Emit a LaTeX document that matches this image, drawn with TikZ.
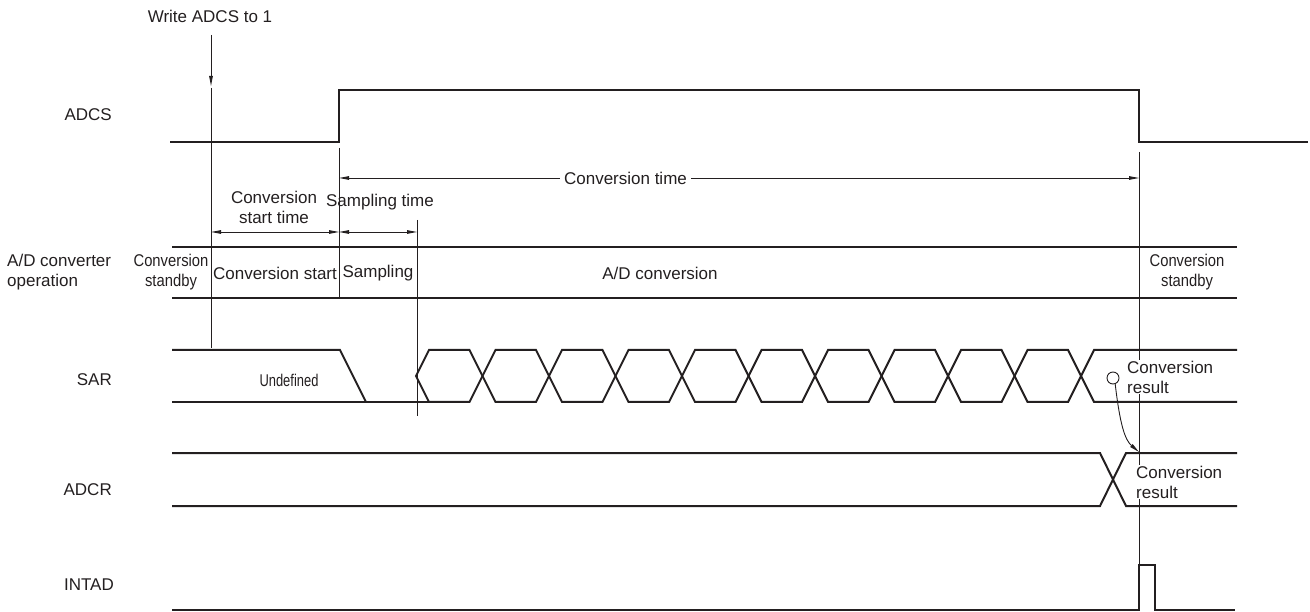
\documentclass[tikz,border=0pt]{standalone}
\usepackage{fontspec}
\setmainfont{Liberation Sans}
\newfontfamily\condfont[FakeStretch=0.87]{Liberation Sans}
\newfontfamily\narrowfont[FakeStretch=0.76]{Liberation Sans}
\usetikzlibrary{arrows.meta}
\definecolor{ink}{HTML}{231F20}
\begin{document}
\begin{tikzpicture}[x=1pt,y=-1pt,
  sig/.style={draw=ink,line width=2pt,line join=miter},
  guide/.style={draw=ink,line width=0.9pt},
  tip/.style={-{Triangle[length=10pt,width=3.6pt]}},
  dim/.style={draw=ink,line width=0.9pt,{Triangle[length=10pt,width=3.6pt]}-{Triangle[length=10pt,width=3.6pt]}},
  lbl/.style={text=ink,inner sep=0pt,font=\fontsize{17}{20}\selectfont},
  small/.style={text=ink,inner sep=0pt,align=center,font=\condfont\fontsize{17}{19.5}\selectfont},
  tiny/.style={text=ink,inner sep=0pt,font=\narrowfont\fontsize{17}{19}\selectfont},
  boxed/.style={lbl,fill=white,inner sep=1pt,align=left,anchor=west}]
\useasboundingbox (0,0) rectangle (1310,612);

% ---- signal names
\node[lbl,anchor=east] (nADCS) at (112,115) {ADCS};
\node[lbl,anchor=west,align=left] (nOP) at (7,272) {A/D converter\\operation};
\node[lbl,anchor=east] (nSAR) at (112,380) {SAR};
\node[lbl,anchor=east] (nADCR) at (112,490) {ADCR};
\node[lbl,anchor=east] (nINT) at (114,585) {INTAD};

% ---- write arrow and guide lines
\node[lbl] (write) at (210,16) {Write ADCS to 1};
\coordinate (w1) at (211,35);
\coordinate (w2) at (211,86);
\draw[guide,tip] (w1) -- (w2);
\coordinate (g1a) at (211,88);   \coordinate (g1b) at (211,348);
\coordinate (g2a) at (339,148);  \coordinate (g2b) at (339,298);
\coordinate (g3a) at (417,220);  \coordinate (g3b) at (417,416);
\coordinate (g4a) at (1139,152); \coordinate (g4b) at (1139,565);
\draw[guide] (g1a) -- (g1b);
\draw[guide] (g2a) -- (g2b);
\draw[guide] (g3a) -- (g3b);
\draw[guide] (g4a) -- (g4b);

% ---- ADCS
\draw[sig] (170,142) -- (339,142) -- (339,90) -- (1139,90) -- (1139,142) -- (1308,142);

% ---- timing dimensions
\coordinate (ct1) at (339,178);
\coordinate (ct2) at (1139,178);
\draw[dim] (ct1) -- (ct2);
\node[lbl,fill=white,inner xsep=4pt,inner ysep=2pt] (ctime) at (625.5,178) {Conversion time};
\coordinate (cs1) at (211,232);
\coordinate (cs2) at (339,232);
\coordinate (st2) at (417,232);
\draw[dim] (cs1) -- (cs2);
\draw[dim] (cs2) -- (st2);
\node[lbl,align=center] (cstime) at (274,207) {Conversion\\start time};
\node[lbl] (stime) at (380,202) {Sampling time};

% ---- A/D converter operation band
\draw[sig] (172,247) -- (1237,247);
\draw[sig] (172,298) -- (1237,298);
\node[small] (stby1) at (171,272) {Conversion\\standby};
\node[lbl] (cstart) at (275,273) {Conversion start};
\node[lbl] (samp) at (378,273) {Sampling};
\node[lbl] (adconv) at (660,273) {A/D conversion};
\node[small] (stby2) at (1187,272) {Conversion\\standby};

% ---- SAR
\draw[sig] (172,350) -- (340,350) -- (366,402);
\draw[sig] (172,402) -- (429,402);
\foreach \i in {0,...,9}{
  \pgfmathsetmacro{\L}{416+66.5*\i}
  \pgfmathsetmacro{\R}{\L+66.5}
  \draw[sig] (\L,376) -- (\L+13,350) -- (\R-13,350) -- (\R,376) -- (\R-13,402) -- (\L+13,402) -- cycle;
}
\draw[sig] (1237,350) -- (1094,350) -- (1081,376) -- (1094,402) -- (1237,402);
\node[tiny] (undef) at (289,380) {Undefined};
\node[boxed] (sarres) at (1126,377) {Conversion\\result};
\node[draw=ink,line width=0.9pt,circle,minimum size=12pt,inner sep=0pt,fill=white] (dot) at (1113,378) {};

% ---- ADCR
\draw[sig] (172,453) -- (1100,453) -- (1126,506) -- (1237,506);
\draw[sig] (172,506) -- (1100,506) -- (1126,453) -- (1237,453);
\node[boxed] (adcrres) at (1135,482) {Conversion\\result};
\coordinate (latch) at (1139,452);
\draw[guide,tip] (dot.-70) .. controls (1120,425) and (1125,440) .. (latch);

% ---- INTAD
\draw[sig] (172,610) -- (1139,610) -- (1139,565) -- (1155,565) -- (1155,610) -- (1235,610);
\end{tikzpicture}
\end{document}
